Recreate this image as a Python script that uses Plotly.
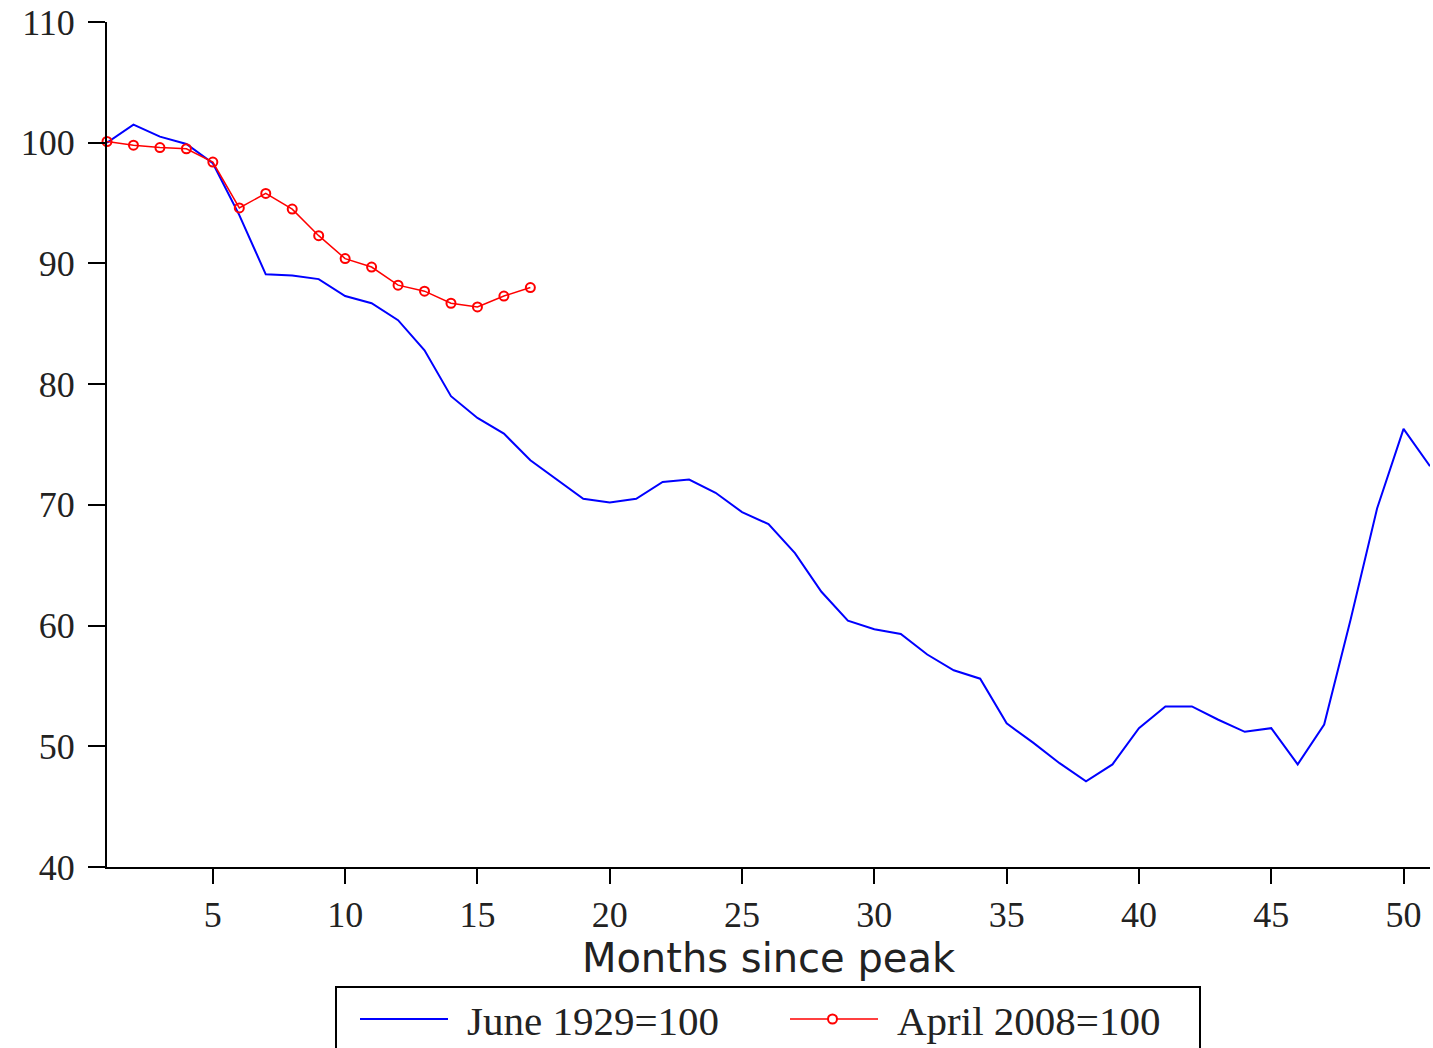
import plotly.graph_objects as go

months_1929 = list(range(1, 52))
index_1929 = [100.0, 101.5, 100.5, 99.9, 98.3, 94.0, 89.1, 89.0, 88.7, 87.3,
              86.7, 85.3, 82.8, 79.0, 77.2, 75.9, 73.7, 72.1, 70.5, 70.2,
              70.5, 71.9, 72.1, 71.0, 69.4, 68.4, 66.0, 62.8, 60.4, 59.7,
              59.3, 57.6, 56.3, 55.6, 51.9, 50.3, 48.6, 47.1, 48.5, 51.5,
              53.3, 53.3, 52.2, 51.2, 51.5, 48.5, 51.8, 60.5, 69.7, 76.3,
              73.2]

months_2008 = list(range(1, 18))
index_2008 = [100.1, 99.8, 99.6, 99.5, 98.4, 94.6, 95.8, 94.5, 92.3, 90.4,
              89.7, 88.2, 87.7, 86.7, 86.4, 87.3, 88.0]

x_ticks = [5, 10, 15, 20, 25, 30, 35, 40, 45, 50]
y_ticks = [40, 50, 60, 70, 80, 90, 100, 110]
label_1929 = "June 1929=100"
label_2008 = "April 2008=100"
x_title = "Months since peak"

W, H = 1433, 1048
PL, PR, PT, PB = 107, 1430, 22, 867   # plot area in page pixels
L, R, T, B = PL, W - PR, PT, H - PB
PW, PH = PR - PL, PB - PT

def px(xp):
    return (xp - PL) / PW

def py(yp):
    return (PB - yp) / PH

SERIF = "Liberation Serif, Times New Roman, serif"
SANS = "DejaVu Sans, Arial, sans-serif"

fig = go.Figure()
fig.add_trace(go.Scatter(x=months_1929, y=index_1929, mode="lines",
                         name=label_1929, line=dict(color="#0000FF", width=2),
                         showlegend=False, cliponaxis=False))
fig.add_trace(go.Scatter(x=months_2008, y=index_2008, mode="lines+markers",
                         name=label_2008, line=dict(color="#FF0000", width=1.5),
                         marker=dict(symbol="circle-open", size=9, color="#FF0000",
                                     line=dict(width=2, color="#FF0000")),
                         showlegend=False, cliponaxis=False))

shapes = [
    dict(type="rect", xref="paper", yref="paper", x0=px(336), x1=px(1200),
         y0=py(987), y1=py(1070), line=dict(color="black", width=2), fillcolor="white", layer="below"),
    dict(type="line", xref="paper", yref="paper", x0=px(360), x1=px(448),
         y0=py(1019), y1=py(1019), line=dict(color="#0000FF", width=2)),
    dict(type="line", xref="paper", yref="paper", x0=px(790), x1=px(878),
         y0=py(1019), y1=py(1019), line=dict(color="#FF0000", width=1.5)),
    dict(type="circle", xref="paper", yref="paper", x0=px(828), x1=px(837),
         y0=py(1014.5), y1=py(1023.5), line=dict(color="#FF0000", width=2), fillcolor="white"),
]
annotations = [
    dict(xref="paper", yref="paper", x=px(465), y=py(1021), text=label_1929,
         showarrow=False, xanchor="left", yanchor="middle",
         font=dict(family=SERIF, size=41, color="#222")),
    dict(xref="paper", yref="paper", x=px(895), y=py(1021), text=label_2008,
         showarrow=False, xanchor="left", yanchor="middle",
         font=dict(family=SERIF, size=41, color="#222")),
]

fig.update_layout(
    width=W, height=H,
    margin=dict(l=L, r=R, t=T, b=B),
    paper_bgcolor="white", plot_bgcolor="white",
    shapes=shapes, annotations=annotations,
    xaxis=dict(range=[1, 51], tickvals=x_ticks, ticks="outside", ticklen=15,
               tickwidth=2, tickcolor="black", showline=True, linecolor="black",
               linewidth=2, showgrid=False, zeroline=False,
               tickfont=dict(family=SERIF, size=36, color="#222"),
               title=dict(text=x_title, font=dict(family=SANS, size=40, color="#222"),
                          standoff=6)),
    yaxis=dict(range=[40, 110], tickvals=y_ticks, ticks="outside", ticklen=17,
               tickwidth=2, tickcolor="black", showline=True, linecolor="black",
               linewidth=2, showgrid=False, zeroline=False, ticklabelstandoff=6,
               tickfont=dict(family=SERIF, size=36, color="#222")),
)

fig.write_html("out.html", config={"displayModeBar": False},
               post_script="document.body.style.margin='0';document.body.style.overflow='hidden';")
